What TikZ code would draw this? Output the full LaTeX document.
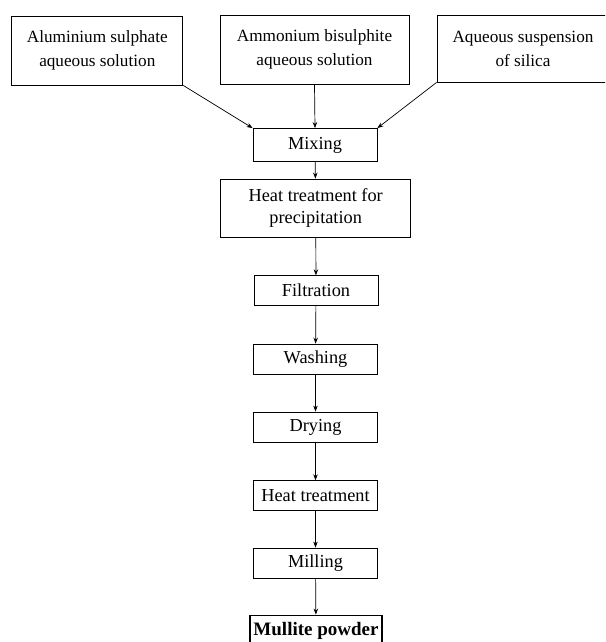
\documentclass[tikz,border=0pt]{standalone}
\usepackage{fontspec}
\setmainfont{Liberation Serif}
\usetikzlibrary{arrows.meta}
\begin{document}
\begin{tikzpicture}[x=1pt,y=-1pt,
  box/.style={draw, line width=0.8pt, inner sep=0pt, align=center,
    font=\fontsize{18.3}{22}\selectfont},
  topbox/.style={box, font=\fontsize{17.2}{24}\selectfont},
  arr/.style={line width=0.7pt, -{Stealth[length=6pt,width=4.5pt]}}]
\useasboundingbox (0,0) rectangle (605,642);
\clip (0,0) rectangle (605,642);
\node[topbox, minimum width=171pt, minimum height=69pt] (a1) at (97.3,50.5) {Aluminium sulphate\\aqueous solution};
\node[topbox, minimum width=189pt, minimum height=69pt] (a2) at (314.5,49.5) {Ammonium bisulphite\\aqueous solution};
\node[topbox, minimum width=172pt, minimum height=67pt] (a3) at (523,48.5) {Aqueous suspension\\of silica};
\node[box, minimum width=124pt, minimum height=33pt] (mix) at (315,145) {Mixing};
\node[box, minimum width=190pt, minimum height=58pt] (heat1) at (315.7,208) {Heat treatment for\\precipitation};
\node[box, minimum width=124pt, minimum height=30pt] (filt) at (316,290.7) {Filtration};
\node[box, minimum width=124pt, minimum height=30pt] (wash) at (315.5,359) {Washing};
\node[box, minimum width=124pt, minimum height=30pt] (dry) at (315.5,427) {Drying};
\node[box, minimum width=124pt, minimum height=30pt] (heat2) at (315.5,495.7) {Heat treatment};
\node[box, minimum width=124pt, minimum height=30pt] (mill) at (315.5,563) {Milling};
\node[box, line width=1.8pt, minimum width=132pt, minimum height=31pt, font=\fontsize{19}{23}\selectfont\bfseries] (mull) at (316,631) {Mullite powder};
\draw[arr] (a1.south east) -- (mix.north west);
\draw[arr] (a2.south) -- (mix.north);
\draw[arr] (a3.south west) -- (mix.north east);
\draw[arr] (mix) -- (heat1);
\draw[arr] (heat1) -- (filt);
\draw[arr] (filt) -- (wash);
\draw[arr] (wash) -- (dry);
\draw[arr] (dry) -- (heat2);
\draw[arr] (heat2) -- (mill);
\draw[arr] (mill) -- (mull);
\end{tikzpicture}
\end{document}
